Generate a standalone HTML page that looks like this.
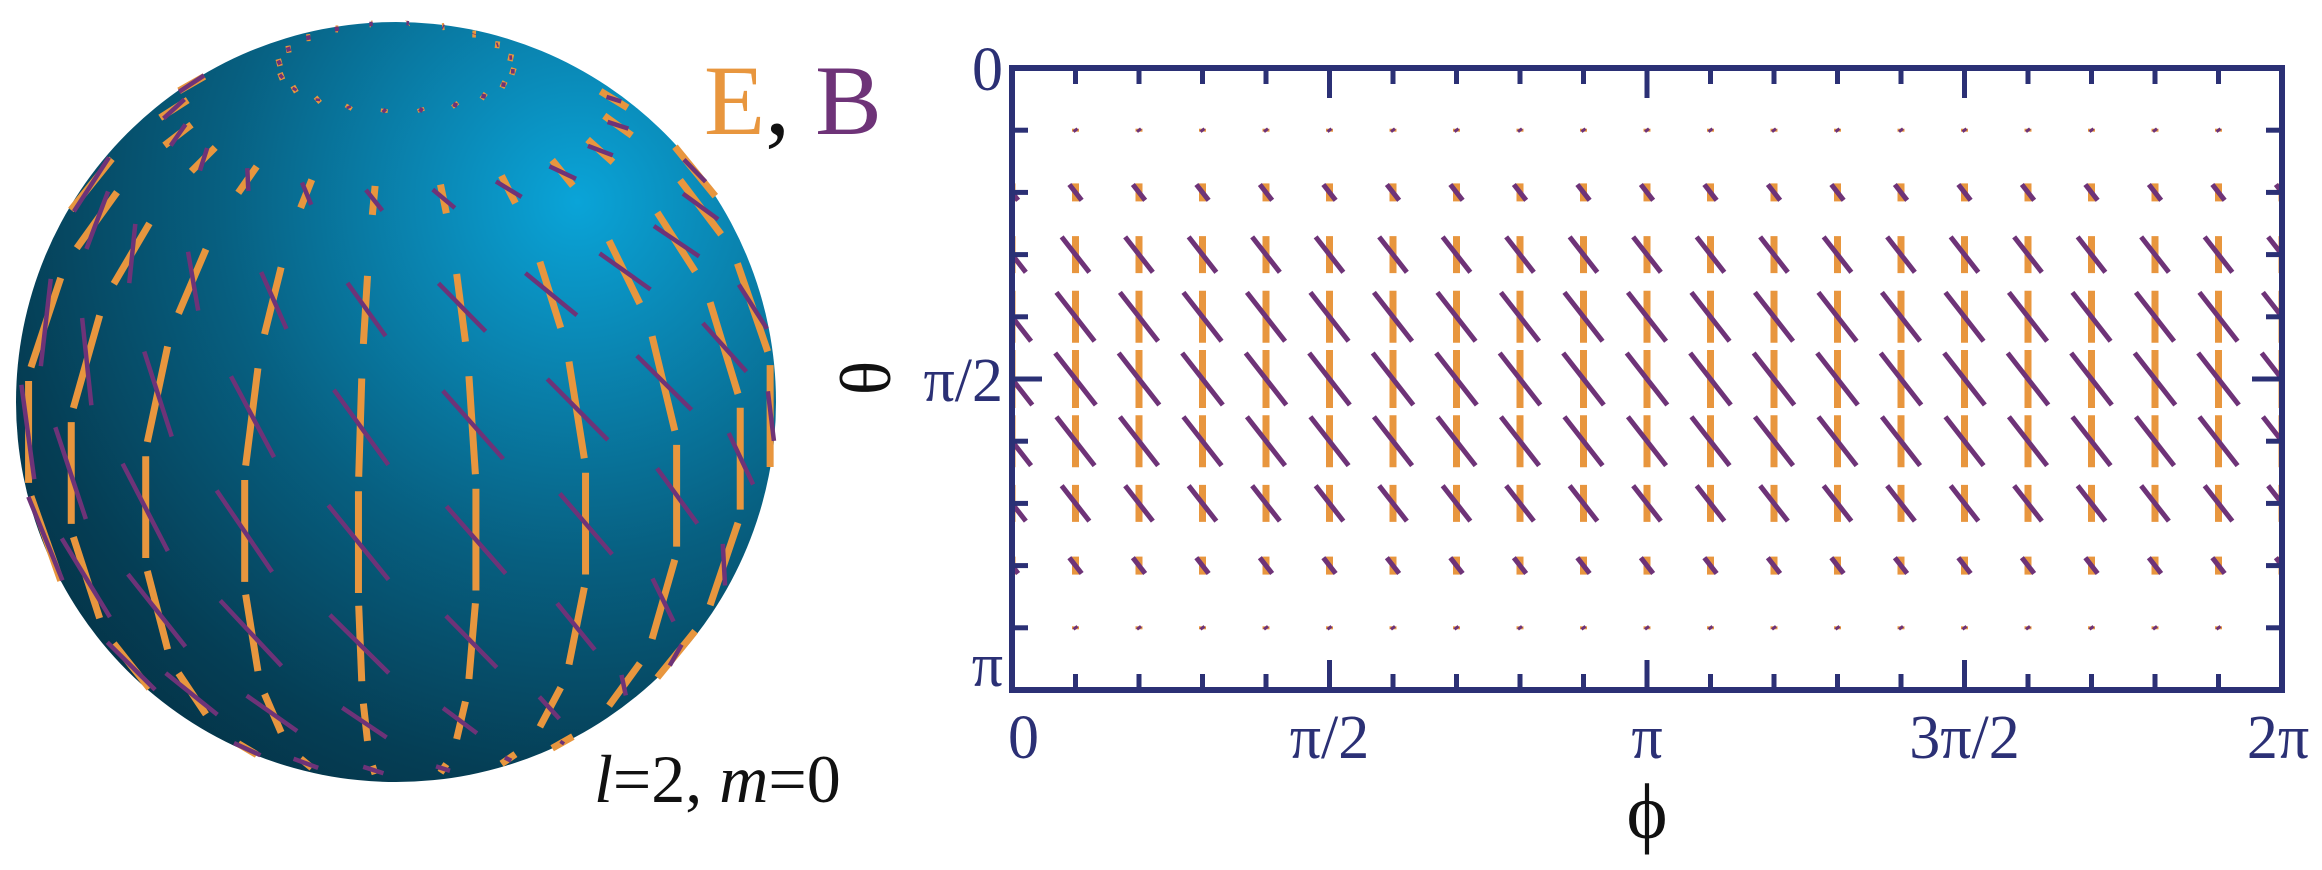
<!DOCTYPE html>
<html><head><meta charset="utf-8">
<style>
html,body{margin:0;padding:0;background:#fff;}
svg{display:block;}
text{font-family:"Liberation Serif","DejaVu Serif",serif;}
</style></head>
<body>
<svg id="fig" width="2322" height="870" viewBox="0 0 2322 870" xmlns="http://www.w3.org/2000/svg">
  <defs>
    <radialGradient id="sg" cx="577" cy="202" r="720" gradientUnits="userSpaceOnUse">
      <stop offset="0" stop-color="#0aa4d8"/>
      <stop offset="0.2" stop-color="#0a88b5"/>
      <stop offset="0.5" stop-color="#075f80"/>
      <stop offset="0.8" stop-color="#053e55"/>
      <stop offset="1" stop-color="#042f42"/>
    </radialGradient>
    <clipPath id="plotclip"><rect x="1012" y="68" width="1270" height="622"/></clipPath>
  </defs>
  <g id="sphere">
    <circle cx="396" cy="402" r="380" fill="url(#sg)"/>
    <g id="sphereMarks"></g>
  </g>
  <text x="704" y="134" font-size="100"><tspan fill="#E8963E">E</tspan><tspan fill="#111">, </tspan><tspan fill="#6E3378">B</tspan></text>
  <text x="594" y="802" font-size="68" fill="#111"><tspan font-style="italic">l</tspan>=2, <tspan font-style="italic">m</tspan>=0</text>

  <g id="plot">
    <g id="marks" clip-path="url(#plotclip)"></g>
    <g id="ticks"></g>
    <rect x="1012" y="68" width="1270" height="622" fill="none" stroke="#2B3075" stroke-width="6"/>
    <g id="labels" fill="#2B3075" font-size="62"></g>
    <text x="866" y="378" font-size="72" fill="#111" text-anchor="middle" dominant-baseline="central" transform="rotate(-90 866 378)">θ</text>
    <text x="1647" y="838" font-size="78" fill="#111" text-anchor="middle">ϕ</text>
  </g>
</svg>
<script>
// data
const thetaRows = [1,2,3,4,5,6,7,8,9];          // theta = k*pi/10
const phiCols = [0,1,2,3,4,5,6,7,8,9,10,11,12,13,14,15,16,17,18,19,20]; // phi = k*pi/10
const eLen = [3,18,37,52,58,52,37,18,3];
const bLen = [3,20,45,62,66,62,45,20,3];
const bAngleDeg = 52;
const xTickLabels = ["0","π/2","π","3π/2","2π"];
const yTickLabels = ["0","π/2","π"];

const NS="http://www.w3.org/2000/svg";
const X0=1012,X1=2282,Y0=68,Y1=690;
function xs(phi){return X0+(X1-X0)*phi/(2*Math.PI);}
function ys(th){return Y0+(Y1-Y0)*th/Math.PI;}
function line(p,x1,y1,x2,y2,col,w){const l=document.createElementNS(NS,'line');
 l.setAttribute('x1',x1);l.setAttribute('y1',y1);l.setAttribute('x2',x2);l.setAttribute('y2',y2);
 l.setAttribute('stroke',col);l.setAttribute('stroke-width',w);p.appendChild(l);return l;}
const E='#E8963E',B='#6E3378',AX='#2B3075';
const marks=document.getElementById('marks');
const ba=bAngleDeg*Math.PI/180;
thetaRows.forEach((k,i)=>{
  const th=k*Math.PI/10, cy=ys(th);
  phiCols.forEach(j=>{
    const cx=xs(j*Math.PI/10);
    const h=eLen[i]/2;
    const e=line(marks,cx,cy-h,cx,cy+h,E,7);
    
    
    const bl=bLen[i]/2, dx=bl*Math.cos(ba), dy=bl*Math.sin(ba);
    const b=line(marks,cx-dx,cy-dy,cx+dx,cy+dy,B,5);
    
    
  });
});
// ticks
const tk=document.getElementById('ticks');
for(let j=1;j<20;j++){
  const x=xs(j*Math.PI/10), L=(j%5===0)?30:16;
  let t=line(tk,x,Y0,x,Y0+L,AX,5);
  
  
  t=line(tk,x,Y1,x,Y1-L,AX,5);
  
  
}
for(let k=1;k<10;k++){
  const y=ys(k*Math.PI/10), L=(k===5)?30:16;
  let t=line(tk,X0,y,X0+L,y,AX,5);
  
  
  t=line(tk,X1,y,X1-L,y,AX,5);
  
  
}
const lab=document.getElementById('labels');
function txt(s,x,y,anchor,base){const t=document.createElementNS(NS,'text');t.textContent=s;
 t.setAttribute('x',x);t.setAttribute('y',y);t.setAttribute('text-anchor',anchor);t.setAttribute('dominant-baseline',base);lab.appendChild(t);return t;}
xTickLabels.forEach((s,i)=>{
  const x=xs(i*Math.PI/2);
  const t=txt(s,i===0?x-4:(i===4?x-4:x),758,i===0?'start':'middle','auto');
  
  
});
yTickLabels.forEach((s,i)=>{
  const y=ys(i*Math.PI/2);
  const t=txt(s,1003,i===2?y-4:y+22,'end','auto');
  
  
});
// sphere
const sm=document.getElementById('sphereMarks');
const CX=396,CY=402,R=380,al=22*Math.PI/180,SK=1.9,SKB=1.5,PH0=-0.1;
function proj(th,ph){const x=Math.sin(th)*Math.sin(ph),y=Math.cos(th),z=Math.sin(th)*Math.cos(ph);
 const y2=y*Math.cos(al)-z*Math.sin(al), z2=y*Math.sin(al)+z*Math.cos(al);
 return [CX+R*x, CY-R*y2, z2];}
thetaRows.forEach((k,i)=>{
  const th=k*Math.PI/10;
  phiCols.forEach(j=>{
    if(j===20) return;
    const ph=j*Math.PI/10+PH0;
    const c=proj(th,ph); if(c[2]<0.03) return;
    const de=SK*eLen[i]/R/2;
    const a=proj(th-de,ph), b=proj(th+de,ph);
    const e=line(sm,a[0],a[1],b[0],b[1],E,7);
    
    
    const db=SKB*bLen[i]/R/2, s=Math.sin(th)||1;
    const p=proj(th-db*Math.sin(ba),ph-db*Math.cos(ba)/s), q=proj(th+db*Math.sin(ba),ph+db*Math.cos(ba)/s);
    const bb=line(sm,p[0],p[1],q[0],q[1],B,4.5);
    
    
  });
});
</script>
</body></html>
